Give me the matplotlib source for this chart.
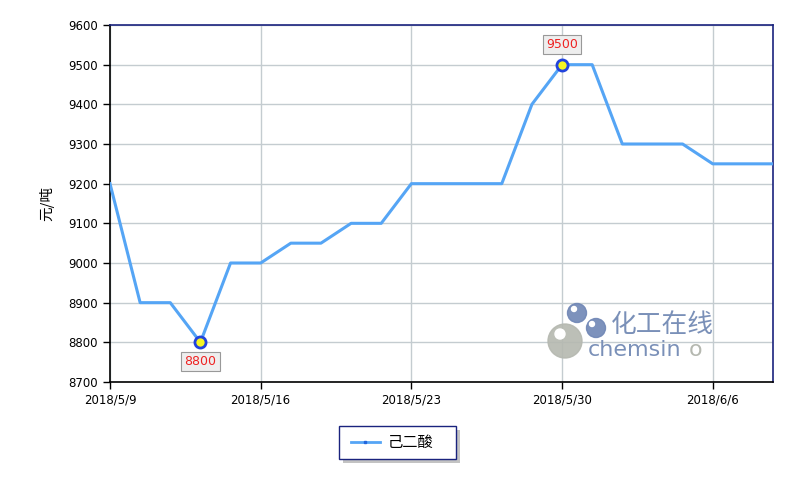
import matplotlib.pyplot as plt
from matplotlib.patches import Circle, FancyBboxPatch

plt.rcParams['font.family'] = ['DejaVu Sans', 'Noto Sans CJK SC']

# trading days (weekdays only)
dates = ['2018/5/9', '2018/5/10', '2018/5/11', '2018/5/14', '2018/5/15', '2018/5/16',
         '2018/5/17', '2018/5/18', '2018/5/21', '2018/5/22', '2018/5/23', '2018/5/24',
         '2018/5/25', '2018/5/28', '2018/5/29', '2018/5/30', '2018/5/31', '2018/6/1',
         '2018/6/4', '2018/6/5', '2018/6/6', '2018/6/7', '2018/6/8']
prices = [9200, 8900, 8900, 8800, 9000, 9000, 9050, 9050, 9100, 9100, 9200, 9200,
          9200, 9200, 9400, 9500, 9500, 9300, 9300, 9300, 9250, 9250, 9250]
tick_labels = ['2018/5/9', '2018/5/16', '2018/5/23', '2018/5/30', '2018/6/6']
series_name = '己二酸'

x = list(range(len(dates)))
tick_pos = [dates.index(t) for t in tick_labels]

fig = plt.figure(figsize=(7.98, 4.79), dpi=100)
ax = fig.add_axes([110 / 798, 97 / 479, 663 / 798, 357 / 479])

line_color = '#55a5f5'
ax.plot(x, prices, color=line_color, lw=2.2, zorder=3, label=series_name)

# min / max markers with labels
i_min = prices.index(min(prices))
i_max = prices.index(max(prices))
for i, dy in [(i_min, -14), (i_max, 14.5)]:
    ax.plot(x[i], prices[i], 'o', ms=8, mfc='#f5f523', mec='#2244dd', mew=2, zorder=5)
    ax.annotate(str(prices[i]), (x[i], prices[i]), xytext=(0, dy), textcoords='offset points',
                ha='center', va='center', color='#ee2222', fontsize=9,
                bbox=dict(boxstyle='square,pad=0.25', fc='#eeeeee', ec='#999999', lw=0.8),
                zorder=6)

ax.set_xlim(0, len(dates) - 1)
ax.set_ylim(8700, 9600)
ax.set_yticks(range(8700, 9601, 100))
ax.set_xticks(tick_pos)
ax.set_xticklabels(tick_labels)
ax.tick_params(direction='out', length=5, width=1, labelsize=8.5, color='black')
ax.grid(True, color='#c4ccd0', lw=1)
ax.set_axisbelow(True)

for s in ['left', 'bottom']:
    ax.spines[s].set_color('black')
    ax.spines[s].set_linewidth(1.2)
for s in ['top', 'right']:
    ax.spines[s].set_color('#1a237e')
    ax.spines[s].set_linewidth(1.2)

ax.set_ylabel('元/吨', family=['Noto Sans CJK SC', 'DejaVu Sans'], fontsize=10.5, labelpad=10)

# watermark
wm = fig.add_axes([0, 0, 1, 1], facecolor='none')
wm.set_xlim(0, 798)
wm.set_ylim(479, 0)
wm.axis('off')
wm.add_patch(Circle((565, 341), 17, color='#b5b8b0', alpha=0.9))
wm.add_patch(Circle((560, 334), 5, color='white'))
wm.add_patch(Circle((577, 313), 9.5, color='#6f86b5', alpha=0.9))
wm.add_patch(Circle((596, 328), 9.5, color='#6f86b5', alpha=0.9))
wm.add_patch(Circle((574, 309), 2.5, color='white'))
wm.add_patch(Circle((592, 324), 2.5, color='white'))
wm.text(611, 325, '化工在线', family=['Noto Sans CJK SC'], fontsize=18.5, color='#7a90b8',
        va='center', ha='left')
wm.text(588, 350, 'chemsin', fontsize=16, color='#7a90b8', va='center', ha='left')
wm.text(689, 350, 'o', fontsize=16, color='#b5b8b0', va='center', ha='left')

# legend box with shadow
wm.add_patch(FancyBboxPatch((343, 430), 117, 33, boxstyle='square,pad=0', fc='#888888',
                            ec='none', alpha=0.5))
wm.add_patch(FancyBboxPatch((339, 426), 117, 33, boxstyle='square,pad=0', fc='white',
                            ec='#1a237e', lw=1))
wm.plot([351, 380], [442, 442], color=line_color, lw=2)
wm.plot([365], [442], 's', color='#2266dd', ms=2)
wm.text(388, 442, series_name, family=['Noto Sans CJK SC'], fontsize=11, va='center', ha='left')

fig.savefig('out.png', dpi=100)
